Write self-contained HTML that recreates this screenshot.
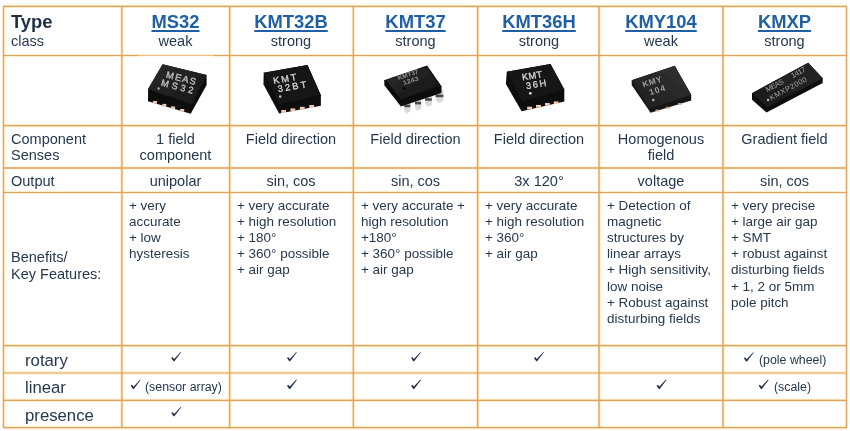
<!DOCTYPE html>
<html>
<head>
<meta charset="utf-8">
<style>
html,body{margin:0;padding:0;background:#fff;}
body{width:850px;height:431px;position:relative;overflow:hidden;font-family:"Liberation Sans",sans-serif;color:#26384e;}
.t{filter:blur(0.35px);position:absolute;white-space:nowrap;line-height:16.5px;font-size:14.1px;transform:scaleX(1.03);transform-origin:left top;}
.c{text-align:center;transform-origin:center top;}
.h{font-weight:bold;font-size:17.6px;color:#1f5fa6;text-decoration:underline;text-decoration-thickness:1.6px;text-underline-offset:1.9px;line-height:20px;transform:scaleX(1.045);}
.f{font-size:13.3px;line-height:16.17px;white-space:pre;transform:scaleX(1.012);}
.r{font-size:16.3px;line-height:20px;transform:scaleX(1.028);}
.s{font-size:12.3px;line-height:16px;transform:scaleX(1.005);}
svg{position:absolute;left:0;top:0;}
</style>
</head>
<body>
<!-- header -->
<div class="t" style="left:10.9px;top:11.9px;font-weight:bold;font-size:17.6px;line-height:20px;color:#1b2f46;transform:scaleX(1.045);">Type</div>
<div class="t" style="left:11px;top:33.4px;">class</div>

<div class="t c h" style="left:122px;width:107px;top:12.2px;">MS32</div>
<div class="t c h" style="left:229px;width:124px;top:12.2px;">KMT32B</div>
<div class="t c h" style="left:353px;width:125px;top:12.2px;">KMT37</div>
<div class="t c h" style="left:478px;width:122px;top:12.2px;">KMT36H</div>
<div class="t c h" style="left:599px;width:124px;top:12.2px;">KMY104</div>
<div class="t c h" style="left:723px;width:123px;top:12.2px;">KMXP</div>

<div class="t c" style="left:122px;width:107px;top:33px;">weak</div>
<div class="t c" style="left:229px;width:124px;top:33px;">strong</div>
<div class="t c" style="left:353px;width:125px;top:33px;">strong</div>
<div class="t c" style="left:478px;width:122px;top:33px;">strong</div>
<div class="t c" style="left:599px;width:124px;top:33px;">weak</div>
<div class="t c" style="left:723px;width:123px;top:33px;">strong</div>

<!-- component senses -->
<div class="t" style="left:11px;top:130.7px;">Component<br>Senses</div>
<div class="t c" style="left:122px;width:107px;top:130.7px;">1 field<br>component</div>
<div class="t c" style="left:229px;width:124px;top:130.7px;">Field direction</div>
<div class="t c" style="left:353px;width:125px;top:130.7px;">Field direction</div>
<div class="t c" style="left:478px;width:122px;top:130.7px;">Field direction</div>
<div class="t c" style="left:599px;width:124px;top:130.7px;">Homogenous<br>field</div>
<div class="t c" style="left:723px;width:123px;top:130.7px;">Gradient field</div>

<!-- output -->
<div class="t" style="left:11px;top:173px;">Output</div>
<div class="t c" style="left:122px;width:107px;top:173px;">unipolar</div>
<div class="t c" style="left:229px;width:124px;top:173px;">sin, cos</div>
<div class="t c" style="left:353px;width:125px;top:173px;">sin, cos</div>
<div class="t c" style="left:478px;width:122px;top:173px;">3x 120°</div>
<div class="t c" style="left:599px;width:124px;top:173px;">voltage</div>
<div class="t c" style="left:723px;width:123px;top:173px;">sin, cos</div>

<!-- benefits -->
<div class="t" style="left:11px;top:248.5px;line-height:17.2px;">Benefits/<br>Key Features:</div>
<div class="t f" style="left:129.3px;top:197.8px;">+ very
accurate
+ low
hysteresis</div>
<div class="t f" style="left:237.3px;top:197.8px;">+ very accurate
+ high resolution
+ 180°
+ 360° possible
+ air gap</div>
<div class="t f" style="left:361.3px;top:197.8px;">+ very accurate +
high resolution
+180°
+ 360° possible
+ air gap</div>
<div class="t f" style="left:485.3px;top:197.8px;">+ very accurate
+ high resolution
+ 360°
+ air gap</div>
<div class="t f" style="left:606.8px;top:197.8px;">+ Detection of
magnetic
structures by
linear arrays
+ High sensitivity,
low noise
+ Robust against
disturbing fields</div>
<div class="t f" style="left:730.8px;top:197.8px;">+ very precise
+ large air gap
+ SMT
+ robust against
disturbing fields
+ 1, 2 or 5mm
pole pitch</div>

<!-- bottom rows -->
<div class="t r" style="left:24.9px;top:349.6px;">rotary</div>
<div class="t r" style="left:24.9px;top:377.4px;">linear</div>
<div class="t r" style="left:24.9px;top:404.6px;">presence</div>

<div class="t s" style="left:144.8px;top:379.1px;">(sensor array)</div>
<div class="t s" style="left:758.9px;top:351.5px;">(pole wheel)</div>
<div class="t s" style="left:773.9px;top:378.6px;">(scale)</div>

<svg width="850" height="431" viewBox="0 0 850 431">
<defs>
<path id="ck" d="M9.9,0 L3.1,9.0 L2.2,9.0 L0,5.8 L1.2,4.8 L2.8,6.7 L9.3,-0.3 Z" fill="#21314a"/>
</defs>
<!-- grid -->
<g stroke="#ffd488" stroke-opacity="0.45" stroke-width="3.2" fill="none">
<path d="M3.5,6.4V427.65 M121.85,6.4V427.65 M229.65,6.4V427.65 M353.35,6.4V427.65 M477.65,6.4V427.65 M599.05,6.4V427.65 M723,6.4V427.65 M846.5,6.4V427.65"/>
<path d="M3.5,6.4H846.5 M3.5,55.5H846.5 M3.5,125.65H846.5 M3.5,168H846.5 M3.5,192.5H846.5 M3.5,345.6H846.5 M3.5,372.95H846.5 M3.5,400.3H846.5 M3.5,427.65H846.5"/>
</g>
<g stroke="#dca866" fill="none">
<path d="M3.5,5.8V428.3" stroke-width="1.2"/>
<path d="M121.85,6.4V428.3" stroke-width="1.35"/>
<path d="M229.65,6.4V428.3" stroke-width="1.25"/>
<path d="M353.35,6.4V428.3" stroke-width="1.25"/>
<path d="M477.65,6.4V428.3" stroke-width="1.4"/>
<path d="M599.05,6.4V428.3" stroke-width="1.4"/>
<path d="M723,6.4V428.3" stroke-width="1.45"/>
<path d="M846.5,5.8V428.3" stroke-width="1.2"/>
</g>
<g stroke="#daa562" fill="none">
<path d="M3.5,6.4H846.5" stroke-width="1.15"/>
<path d="M3.5,55.5H846.5" stroke-width="1.0"/>
<path d="M3.5,125.65H846.5" stroke-width="1.2"/>
<path d="M3.5,168H846.5" stroke-width="1.5"/>
<path d="M3.5,192.5H846.5" stroke-width="1.0"/>
<path d="M3.5,345.6H846.5" stroke-width="1.15"/>
<path d="M3.5,372.95H846.5" stroke-width="1.1"/>
<path d="M3.5,400.3H846.5" stroke-width="1.15"/>
<path d="M3.5,427.65H846.5" stroke-width="1.2"/>
</g>
<!-- chips -->
<defs>
<linearGradient id="g1" x1="0" y1="0" x2="1" y2="1"><stop offset="0" stop-color="#2a2a2a"/><stop offset="1" stop-color="#181818"/></linearGradient>
<linearGradient id="g3" x1="0" y1="0" x2="1" y2="1"><stop offset="0" stop-color="#2e2e2e"/><stop offset="1" stop-color="#121212"/></linearGradient>
<linearGradient id="g5" x1="0" y1="1" x2="1" y2="0"><stop offset="0" stop-color="#1c1c1c"/><stop offset="1" stop-color="#343434"/></linearGradient>
<linearGradient id="g6" x1="0" y1="1" x2="1" y2="0"><stop offset="0" stop-color="#1a1a1a"/><stop offset="1" stop-color="#262626"/></linearGradient>
<filter id="bl" x="-10%" y="-10%" width="120%" height="120%"><feGaussianBlur stdDeviation="0.45"/></filter>
<filter id="bt" x="-10%" y="-10%" width="120%" height="120%"><feGaussianBlur stdDeviation="0.3"/></filter>
</defs>
<rect x="138.5" y="55.6" width="75.3" height="2.4" fill="#fff" opacity="0.8"/>
<!-- chip1 MS32 -->
<g filter="url(#bl)">
<polygon points="162.6,64.3 206.6,75.1 206.6,84.9 190.7,113.8 148,101.2 148.1,88.9" fill="#0d0d0d"/>
<polygon points="162.6,64.3 206.6,75.1 191.8,104.2 148.1,88.9" fill="url(#g1)"/>
<g fill="#ecc8bc"><rect x="153" y="101" width="4" height="2.7"/><rect x="162.4" y="103.9" width="3.9" height="2.7"/><rect x="171" y="106.4" width="4.1" height="2.7"/><rect x="180.1" y="109" width="4.1" height="2.7"/></g>
</g>
<g filter="url(#bt)" fill="#bcbcbc" stroke="#bcbcbc" stroke-width="0.4" font-family="Liberation Sans, sans-serif" font-size="9.3">
<text transform="translate(165.6,77.4) rotate(14.5)" textLength="30.5" lengthAdjust="spacing">MEAS</text>
<text transform="translate(160.6,85.6) rotate(14.5)" textLength="33" lengthAdjust="spacing">MS32</text>
<circle cx="158.6" cy="88.5" r="1.2" fill="#a8a8a8" stroke="none"/>
</g>
<!-- chip2 KMT32B -->
<g filter="url(#bl)">
<polygon points="263.7,72.8 307.5,65.1 320.9,95.3 320.9,105.7 279.2,113.5 263.5,84.6" fill="#090909"/>
<polygon points="263.7,72.8 307.5,65.1 320.9,95.3 279,104.6" fill="#141414"/>
<g fill="#f0c8b6"><rect x="281.2" y="110" width="4.8" height="3"/><rect x="290.5" y="108.4" width="4.8" height="3"/><rect x="299.9" y="106.8" width="4.8" height="3"/><rect x="309.3" y="105" width="4.8" height="3"/></g>
</g>
<g filter="url(#bt)" fill="#d4d4d4" stroke="#d4d4d4" stroke-width="0.3" font-family="Liberation Sans, sans-serif" font-size="9.4">
<text transform="translate(273.8,84) rotate(-9.5)" textLength="23.5" lengthAdjust="spacing">KMT</text>
<text transform="translate(278.2,92.3) rotate(-9.5)" textLength="29" lengthAdjust="spacing">32BT</text>
<circle cx="280.2" cy="96.6" r="1.3" fill="#b4b4b4" stroke="none"/>
</g>
<!-- chip3 KMT37 -->
<g filter="url(#bl)">
<g fill="#d9d9d9">
<polygon points="404.2,101.0 410.3,99.4 410.5,111.6 406.2,113.4 404.2,110.4"/>
<polygon points="415,98.4 421.1,96.8 421.3,108.8 417,110.7 415,107.6"/>
<polygon points="425.1,94.7 431.8,93 432,104.8 427.6,106.7 425.2,103.6"/>
<polygon points="435.6,91.2 443.3,89.2 443.4,100.9 438.8,103 436,100"/>
</g>
<g fill="#4a4a4a">
<rect x="404.2" y="104.6" width="6.1" height="2.6"/><rect x="415" y="101.8" width="6.1" height="2.6"/><rect x="425.1" y="98.2" width="6.7" height="2.6"/><rect x="435.6" y="94.6" width="7.7" height="2.6"/>
</g>
<polygon points="384.1,80.2 427.1,65.4 441.5,86.2 441.5,93 400.9,106.4 384.5,85.6" fill="#0b0b0b"/>
<polygon points="386.2,80.6 426.6,66.8 439.4,86 401.2,99.2" fill="url(#g3)"/>
</g>
<g filter="url(#bt)" fill="#8e8e8e" font-family="Liberation Sans, sans-serif" font-size="6.4" font-weight="bold">
<text transform="translate(398.5,80.2) rotate(-19)" textLength="21.5" lengthAdjust="spacingAndGlyphs">KMT37</text>
<text transform="translate(403.8,85.3) rotate(-19)" textLength="16" lengthAdjust="spacingAndGlyphs">1243</text>
<circle cx="404.2" cy="88.3" r="1.2" fill="#000"/>
</g>
<!-- chip4 KMT36H -->
<g filter="url(#bl)">
<polygon points="506.8,71.7 550.5,64.1 564.3,89.6 564.3,101.5 521.6,111.3 505.9,84" fill="#090909"/>
<polygon points="506.8,71.7 550.5,64.1 564.3,89.6 522,102.3" fill="#131313"/>
<g fill="#f0c8b6"><rect x="527.1" y="106.7" width="5" height="2.7"/><rect x="536" y="104.9" width="5" height="2.7"/><rect x="545" y="103" width="4.8" height="2.7"/><rect x="553.8" y="101.4" width="4.7" height="2.6"/></g>
</g>
<g filter="url(#bt)" fill="#d4d4d4" stroke="#d4d4d4" stroke-width="0.3" font-family="Liberation Sans, sans-serif" font-size="9.4">
<text transform="translate(522.5,80.6) rotate(-9.5)" textLength="20.5" lengthAdjust="spacing">KMT</text>
<text transform="translate(526.6,89.2) rotate(-9.5)" textLength="20.4" lengthAdjust="spacing">36H</text>
<circle cx="530.3" cy="93.3" r="1.4" fill="#dcdcdc" stroke="none"/>
</g>
<!-- chip5 KMY104 -->
<g filter="url(#bl)">
<polygon points="631.7,80.2 674.8,65.7 691.2,94.7 691.2,100.4 650.6,112.8 631.7,84.9" fill="#141414"/>
<polygon points="631.7,80.2 674.8,65.7 691.2,94.7 649.6,108.8" fill="url(#g5)"/>
<g fill="#c9a08c"><rect x="655.5" y="109.6" width="3.6" height="1.8"/><rect x="666" y="106.8" width="3.6" height="1.8"/><rect x="678" y="103" width="3.6" height="1.8"/></g>
</g>
<g filter="url(#bt)" fill="#a0a0a0" font-family="Liberation Sans, sans-serif" font-size="8.4" font-weight="bold">
<text transform="translate(643.4,87.6) rotate(-18)" textLength="19.8" lengthAdjust="spacing">KMY</text>
<text transform="translate(650.2,95.3) rotate(-18)" textLength="16.3" lengthAdjust="spacing">104</text>
<circle cx="653.3" cy="100.1" r="1.4" fill="#a8a8a8"/>
</g>
<!-- chip6 KMXP -->
<g filter="url(#bl)">
<polygon points="752,93.2 808.2,62.7 822.7,78.2 822.7,82.9 766.5,112.5 752,99.7" fill="#0b0b0b"/>
<polygon points="752,93.2 808.2,62.7 822.7,78.2 767,107.2" fill="url(#g6)"/>
</g>
<g filter="url(#bt)" fill="#a6a6a6" font-family="Liberation Sans, sans-serif" font-size="7.4">
<text transform="translate(767.2,92.3) rotate(-28.2)" textLength="19.5" lengthAdjust="spacing">MEAS</text>
<text transform="translate(792.7,78.2) rotate(-28.2)" textLength="15.3" lengthAdjust="spacing">1417</text>
<text transform="translate(771.2,100.4) rotate(-28.2)" textLength="41.2" lengthAdjust="spacing">KMXP2000</text>
<circle cx="768.1" cy="100" r="1.3" fill="#b0b0b0"/>
</g>
<!-- checks -->
<use href="#ck" x="171.3" y="352.3"/>
<use href="#ck" x="287.0" y="352.3"/>
<use href="#ck" x="411.1" y="352.3"/>
<use href="#ck" x="534.0" y="352.3"/>
<use href="#ck" x="743.9" y="352.5"/>
<use href="#ck" x="287.0" y="379.9"/>
<use href="#ck" x="411.1" y="379.9"/>
<use href="#ck" x="656.6" y="379.9"/>
<use href="#ck" x="130.7" y="380.0"/>
<use href="#ck" x="758.7" y="379.9"/>
<use href="#ck" x="171.3" y="407.2"/>
</svg>
</body>
</html>
